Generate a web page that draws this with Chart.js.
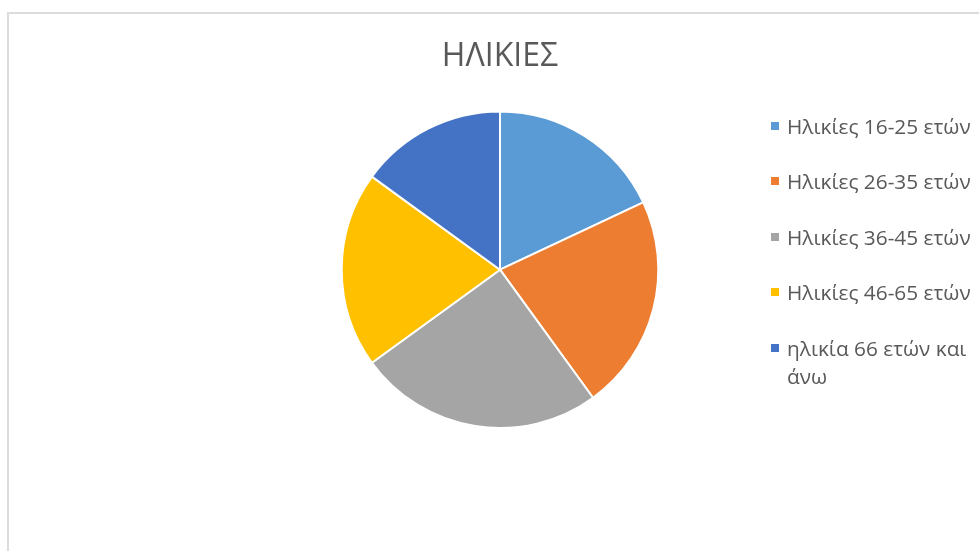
<!DOCTYPE html>
<html>
<head>
<meta charset="utf-8">
<script src="https://cdn.jsdelivr.net/npm/chart.js@4/dist/chart.umd.min.js"></script>
<style>
 body { margin: 0; background: #fff; }
 #frame { position: absolute; left: 7px; top: 12px; width: 1000px; height: 600px; border-top: 2px solid #dcdcdc; border-left: 2px solid #dcdcdc; }
 #wrap { position: absolute; left: 0; top: 0; width: 979px; height: 551px; }
 #legend { position: absolute; left: 0; top: 0; font-family: "Open Sans", sans-serif; font-size: 20.8px; color: #595959; }
 .item { position: absolute; left: 771px; }
 .box { position: absolute; left: 0; top: 10px; width: 8px; height: 8px; }
 .label { position: absolute; left: 16px; width: 194px; line-height: 28px; }
</style>
</head>
<body>
<div id="frame"></div>
<div id="wrap"><canvas id="pie-chart"></canvas></div>
<div id="legend"></div>
<script>
// Chart data
const chartTitle = "ΗΛΙΚΙΕΣ";
const ageGroups = ["Ηλικίες 16-25 ετών", "Ηλικίες 26-35 ετών", "Ηλικίες 36-45 ετών", "Ηλικίες 46-65 ετών", "ηλικία 66 ετών και άνω"];
const shares = [18, 22, 25, 20, 15];
const sliceColors = ["#5B9BD5", "#ED7D31", "#A5A5A5", "#FFC000", "#4472C4"];

const config = {
 type: "pie",
 data: {
  labels: ageGroups,
  datasets: [
   {
    data: shares,
    backgroundColor: sliceColors,
    borderColor: "#fff",
    borderWidth: 2,
   },
  ],
 },
 options: {
  responsive: true,
  maintainAspectRatio: false,
  animation: false,
  layout: {
   padding: { top: 20, left: 200, right: 179, bottom: 122 },
  },
  plugins: {
   legend: { display: false },
   tooltip: { enabled: false },
   title: {
    display: true,
    text: chartTitle,
    color: "#595959",
    font: { family: "'Open Sans', sans-serif", size: 32, weight: "normal" },
    padding: { top: 18, bottom: 34 },
   },
  },
 },
};

const pieChart = new Chart(document.getElementById("pie-chart"), config);

// Legend on the right, built from the same arrays
const legendEl = document.getElementById("legend");
ageGroups.forEach((label, i) => {
 const item = document.createElement("div");
 item.className = "item";
 item.style.top = (111.5 + i * 55.5) + "px";
 const box = document.createElement("div");
 box.className = "box";
 box.style.background = sliceColors[i];
 const text = document.createElement("div");
 text.className = "label";
 text.textContent = label;
 item.appendChild(box);
 item.appendChild(text);
 legendEl.appendChild(item);
});
</script>
</body>
</html>
